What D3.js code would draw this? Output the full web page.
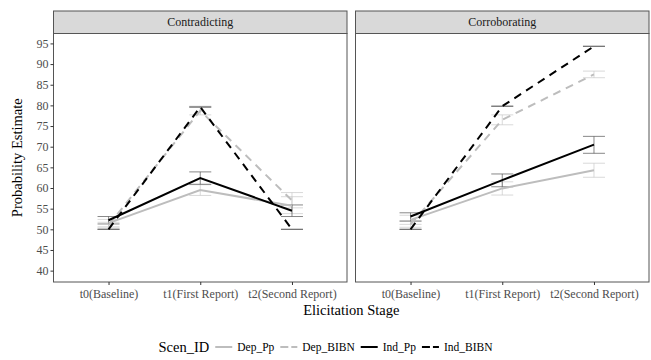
<!DOCTYPE html>
<html>
<head>
<meta charset="utf-8">
<script src="https://cdn.jsdelivr.net/npm/d3@7"></script>
<style>
  html, body { margin: 0; padding: 0; background: #fff; }
  svg { display: block; }
  svg text { font-family: "Liberation Serif", "DejaVu Serif", serif !important; }
</style>
</head>
<body>
<svg id="chart" width="651" height="360"></svg>
<script>
// Facets, stages and series
const panels = ["Contradicting", "Corroborating"];
const stages = ["t0(Baseline)", "t1(First Report)", "t2(Second Report)"];
const seriesNames = ["Dep_Pp", "Dep_BIBN", "Ind_Pp", "Ind_BIBN"];
const yTicks = [40, 45, 50, 55, 60, 65, 70, 75, 80, 85, 90, 95];

// Contradicting: mean, lower and upper per stage
const contraDepPp      = [51.5, 59.5, 55.7];
const contraDepPpLo    = [50.6, 58.2, 53.8];
const contraDepPpHi    = [52.4, 60.8, 57.9];
const contraDepBIBN    = [51.0, 78.7, 57.0];
const contraDepBIBNLo  = [50.3, 77.7, 55.2];
const contraDepBIBNHi  = [51.7, 79.8, 58.9];
const contraIndPp      = [52.2, 62.4, 54.5];
const contraIndPpLo    = [51.3, 60.9, 53.1];
const contraIndPpHi    = [53.1, 63.9, 55.9];
const contraIndBIBN    = [50.0, 79.6, 50.0];
const contraIndBIBNLo  = [50.0, 79.6, 50.0];
const contraIndBIBNHi  = [50.0, 79.6, 50.0];

// Corroborating: mean, lower and upper per stage
const corroDepPp      = [52.3, 59.9, 64.3];
const corroDepPpLo    = [51.2, 58.3, 62.6];
const corroDepPpHi    = [53.4, 61.5, 66.0];
const corroDepBIBN    = [51.2, 76.5, 87.5];
const corroDepBIBNLo  = [50.5, 75.3, 86.7];
const corroDepBIBNHi  = [52.0, 77.7, 88.3];
const corroIndPp      = [53.1, 61.9, 70.5];
const corroIndPpLo    = [52.0, 60.3, 68.4];
const corroIndPpHi    = [54.0, 63.4, 72.5];
const corroIndBIBN    = [50.0, 79.8, 94.3];
const corroIndBIBNLo  = [50.0, 79.8, 94.3];
const corroIndBIBNHi  = [50.0, 79.8, 94.3];

const panelData = {
  "Contradicting": {
    "Dep_Pp":   [contraDepPp, contraDepPpLo, contraDepPpHi],
    "Dep_BIBN": [contraDepBIBN, contraDepBIBNLo, contraDepBIBNHi],
    "Ind_Pp":   [contraIndPp, contraIndPpLo, contraIndPpHi],
    "Ind_BIBN": [contraIndBIBN, contraIndBIBNLo, contraIndBIBNHi]
  },
  "Corroborating": {
    "Dep_Pp":   [corroDepPp, corroDepPpLo, corroDepPpHi],
    "Dep_BIBN": [corroDepBIBN, corroDepBIBNLo, corroDepBIBNHi],
    "Ind_Pp":   [corroIndPp, corroIndPpLo, corroIndPpHi],
    "Ind_BIBN": [corroIndBIBN, corroIndBIBNLo, corroIndBIBNHi]
  }
};

const seriesStyle = {
  "Dep_Pp":   { color: "#bdbdbd", bar: "#c8c8c8", dash: null },
  "Dep_BIBN": { color: "#bdbdbd", bar: "#c8c8c8", dash: "8,6" },
  "Ind_Pp":   { color: "#000000", bar: "#555555", dash: null },
  "Ind_BIBN": { color: "#000000", bar: "#555555", dash: "8,6" }
};

const svg = d3.select("#chart");

const panelX = [[53.5, 347], [355.5, 649]];
const stripTop = 11, panelTop = 33.5, panelBottom = 282;

const y = d3.scaleLinear().domain([37.25, 97.4]).range([panelBottom, panelTop]);

panels.forEach((name, pi) => {
  const [x0, x1] = panelX[pi];
  const x = d3.scalePoint().domain(stages).range([x0, x1]).padding(0.6);
  const g = svg.append("g");

  // strip
  g.append("rect")
    .attr("x", x0).attr("y", stripTop)
    .attr("width", x1 - x0).attr("height", panelTop - stripTop)
    .attr("fill", "#d9d9d9").attr("stroke", "#555").attr("stroke-width", 1);
  g.append("text")
    .attr("x", (x0 + x1) / 2).attr("y", (stripTop + panelTop) / 2 + 4)
    .attr("text-anchor", "middle")
    .attr("font-size", 12).attr("fill", "#1a1a1a")
    .text(name);

  // panel background
  g.append("rect")
    .attr("x", x0).attr("y", panelTop)
    .attr("width", x1 - x0).attr("height", panelBottom - panelTop)
    .attr("fill", "#fff");

  const series = panelData[name];

  // error bars
  seriesNames.forEach(s => {
    const [mean, lo, hi] = series[s];
    const st = seriesStyle[s];
    const eb = g.append("g").attr("stroke", st.bar).attr("stroke-width", 0.7).attr("fill", "none");
    stages.forEach((stage, i) => {
      const cx = x(stage);
      const hw = 11;
      eb.append("line").attr("x1", cx).attr("x2", cx).attr("y1", y(lo[i])).attr("y2", y(hi[i]));
      eb.append("line").attr("x1", cx - hw).attr("x2", cx + hw).attr("y1", y(lo[i])).attr("y2", y(lo[i]));
      eb.append("line").attr("x1", cx - hw).attr("x2", cx + hw).attr("y1", y(hi[i])).attr("y2", y(hi[i]));
    });
  });

  // lines
  const line = d3.line().x((d, i) => x(stages[i])).y(d => y(d));
  seriesNames.forEach(s => {
    const st = seriesStyle[s];
    g.append("path")
      .datum(series[s][0])
      .attr("d", line)
      .attr("fill", "none")
      .attr("stroke", st.color)
      .attr("stroke-width", 2)
      .attr("stroke-dasharray", st.dash);
  });

  // panel border
  g.append("rect")
    .attr("x", x0).attr("y", panelTop)
    .attr("width", x1 - x0).attr("height", panelBottom - panelTop)
    .attr("fill", "none").attr("stroke", "#555").attr("stroke-width", 1);

  // x axis
  const xAxis = g.append("g")
    .attr("transform", `translate(0,${panelBottom})`)
    .call(d3.axisBottom(x).tickSize(3).tickPadding(4));
  xAxis.select(".domain").remove();
  xAxis.selectAll(".tick line").attr("stroke", "#333");
  xAxis.selectAll(".tick text")
    .attr("font-size", 12).attr("fill", "#4d4d4d");

  // y axis on the first panel only
  if (pi === 0) {
    const yAxis = g.append("g")
      .attr("transform", `translate(${x0},0)`)
      .call(d3.axisLeft(y).tickValues(yTicks).tickSize(3).tickPadding(2));
    yAxis.select(".domain").remove();
    yAxis.selectAll(".tick line").attr("stroke", "#333");
    yAxis.selectAll(".tick text")
      .attr("font-size", 12).attr("fill", "#4d4d4d");
  }
});

// axis titles
svg.append("text")
  .attr("transform", `translate(22,${(panelTop + panelBottom) / 2}) rotate(-90)`)
  .attr("text-anchor", "middle")
  .attr("font-size", 14.5).attr("fill", "#000")
  .text("Probability Estimate");

svg.append("text")
  .attr("x", (panelX[0][0] + panelX[1][1]) / 2).attr("y", 315)
  .attr("text-anchor", "middle")
  .attr("font-size", 14.5).attr("fill", "#000")
  .text("Elicitation Stage");

// legend, laid out left to right and centred on the plot
const legend = svg.append("g");
const legY = 347;
let cursor = 0;
const title = legend.append("text")
  .attr("x", cursor).attr("y", legY + 5)
  .attr("font-size", 14.5).attr("fill", "#000")
  .text("Scen_ID");
cursor += title.node().getComputedTextLength() + 6;
seriesNames.forEach((s, i) => {
  const st = seriesStyle[s];
  legend.append("line")
    .attr("x1", cursor).attr("x2", cursor + 17)
    .attr("y1", legY).attr("y2", legY)
    .attr("stroke", st.color).attr("stroke-width", 2)
    .attr("stroke-dasharray", st.dash ? "8,3" : null);
  cursor += 17 + 5;
  const t = legend.append("text")
    .attr("x", cursor).attr("y", legY + 4)
    .attr("font-size", 11.5).attr("fill", "#000")
    .text(s);
  cursor += t.node().getComputedTextLength() + (i < seriesNames.length - 1 ? 6 : 0);
});
legend.attr("transform", `translate(${(651 - cursor) / 2},0)`);
</script>
</body>
</html>
